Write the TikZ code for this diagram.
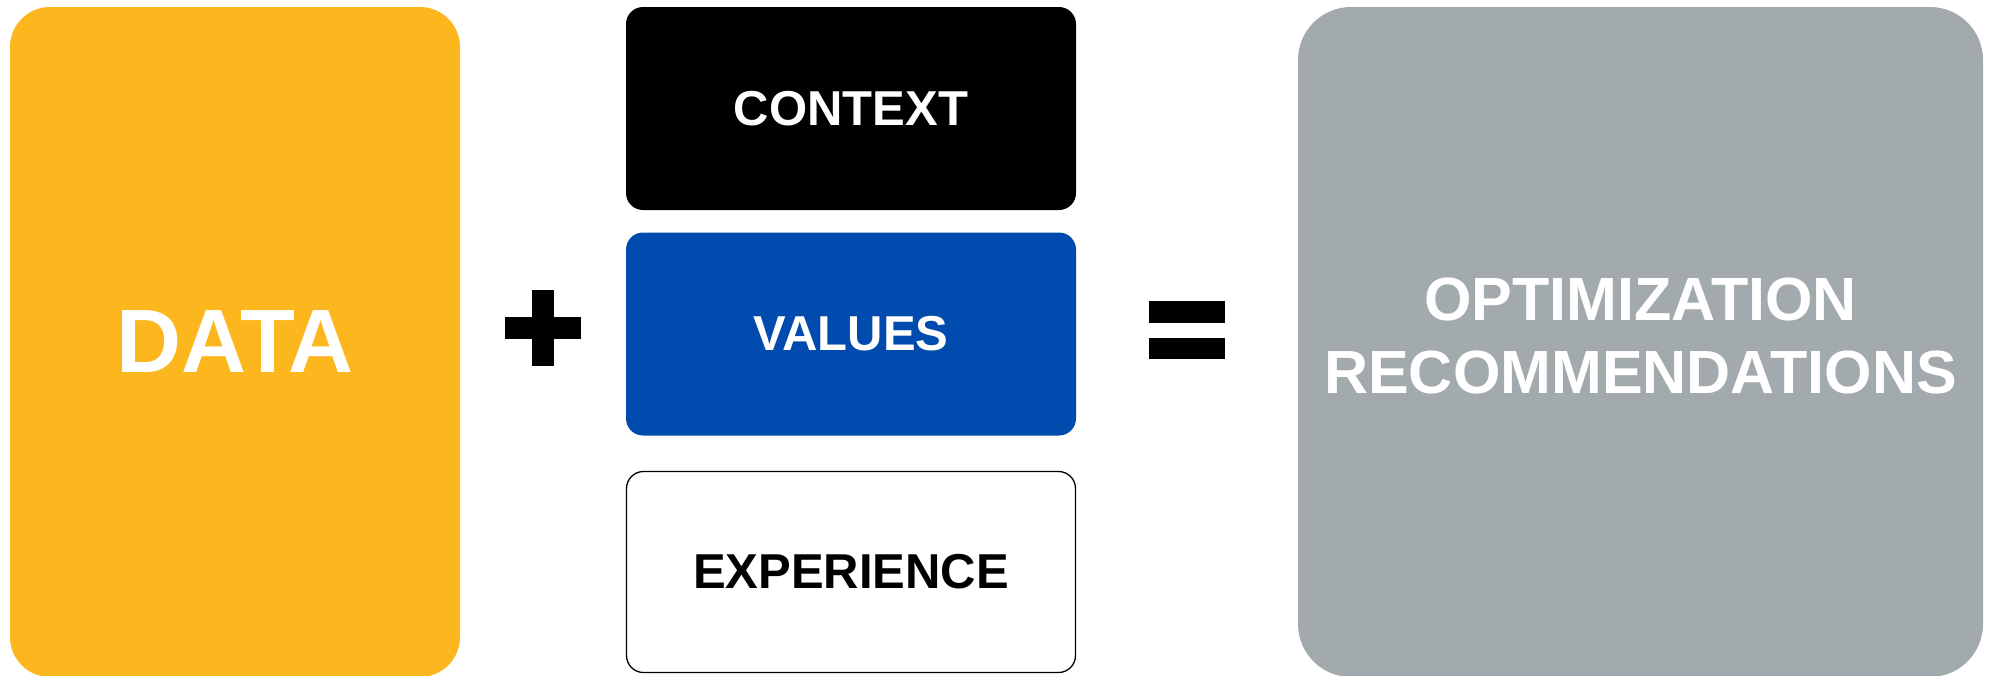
\documentclass[tikz,border=0pt]{standalone}
\usepackage{fontspec}
\setmainfont{Liberation Sans}
\definecolor{dyellow}{HTML}{FDB71E}
\definecolor{dblue}{HTML}{004BAD}
\definecolor{dgray}{HTML}{A3AAAE}
\begin{document}
\begin{tikzpicture}[x=1pt,y=-1pt,
  card/.style={rectangle, inner sep=0pt, outer sep=0pt, draw=none, text=white, font=\bfseries, align=center},
  small/.style={card, minimum width=450pt, minimum height=203pt, rounded corners=17pt, font=\fontsize{49}{56}\selectfont\bfseries},
  big/.style={card, minimum height=670pt, rounded corners=40pt},
  symb/.style={fill=black, draw=none}]
\useasboundingbox (0,0) rectangle (1991,675);
\fill[white] (0,0) rectangle (1991,675);
% left data card
\node[big, fill=dyellow, minimum width=450pt, font=\fontsize{90}{100}\selectfont\bfseries] (data) at (235,342) {DATA};
% plus sign
\fill[symb] (532,290) rectangle (554,366);
\fill[symb] (505,317) rectangle (581,339);
% three stacked cards
\node[small, fill=black] (context) at (851,108.5) {CONTEXT};
\node[small, fill=dblue] (values) at (851,334) {VALUES};
\node[small, fill=white, draw=black, line width=1.3pt, text=black, minimum width=449pt, minimum height=201pt] (experience) at (851,572) {EXPERIENCE};
% equals sign
\fill[symb] (1149,301) rectangle (1225,323);
\fill[symb] (1149,338) rectangle (1225,359);
% result card
\node[big, fill=dgray, minimum width=685pt, rounded corners=53pt,
  label={[inner sep=0pt, text=white, align=center, yshift=6pt, font=\fontsize{61}{73}\selectfont\bfseries]center:OPTIMIZATION\\RECOMMENDATIONS}] (result) at (1640.5,342) {};
\end{tikzpicture}
\end{document}
